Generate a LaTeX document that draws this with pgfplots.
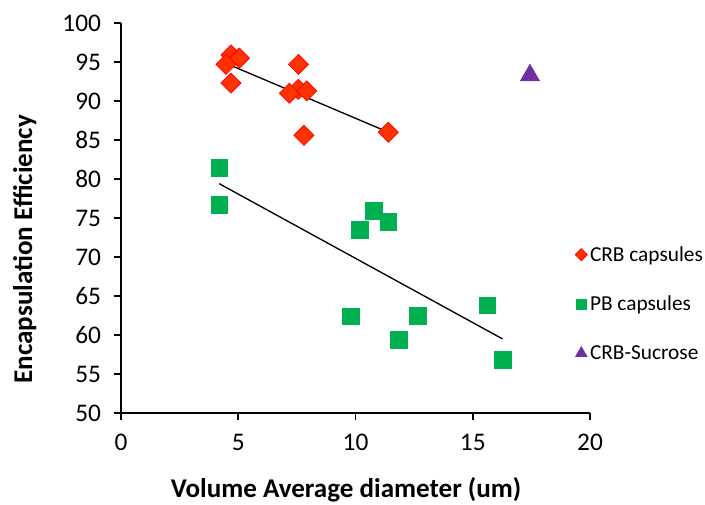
\documentclass[border=0pt]{standalone}
\usepackage{fontspec}
\setmainfont{Carlito}
\usepackage{pgfplots}
\pgfplotsset{compat=1.18}
\definecolor{crb}{HTML}{FF3300}
\definecolor{crbedge}{HTML}{FF0000}
\definecolor{pb}{HTML}{00B050}
\definecolor{suc}{HTML}{7030A0}
\begin{document}
\begin{tikzpicture}
\path[use as bounding box] (0,0) rectangle (528.75pt,378pt);
\begin{axis}[
  at={(90.75pt,68.25pt)}, anchor=south west,
  scale only axis, width=351.75pt, height=292.5pt,
  xmin=0, xmax=20, ymin=50, ymax=100,
  xtick={0,5,...,20}, ytick={50,55,...,100},
  axis lines=left,
  axis line style={-, line width=1.4pt, black},
  tick align=outside, major tick length=5.5pt,
  tick style={black, line width=1.2pt},
  /pgf/number format/assume math mode=true,
  ticklabel style={font=\fontsize{19}{22}\selectfont},
  xticklabel style={yshift=-7pt},
  yticklabel style={xshift=-6pt},
  xlabel={\bfseries Volume Average diameter (um)},
  ylabel={\bfseries Encapsulation Efficiency},
  label style={font=\fontsize{20.3}{23}\selectfont\bfseries},
  xlabel style={at={(axis description cs:0.48,-0.197)}, anchor=center},
  ylabel style={at={(axis description cs:-0.205,0.42)}, anchor=center},
  clip=false,
  legend style={draw=none, fill=none, at={(axis description cs:0.968,0.435)}, anchor=north west,
    font=\fontsize{16}{19}\selectfont, row sep=20.5pt, inner sep=0pt,
    cells={anchor=west}},
  legend cell align=left,
]
\addplot[only marks, mark=square*, mark size=5.3pt, mark options={rotate=45, fill=crb, draw=crbedge, line width=0.6pt},
  legend image post style={mark size=3.2pt}]
  coordinates {(4.69,95.9) (5.05,95.5) (4.48,94.7) (4.69,92.3) (7.57,94.7)
  (7.56,91.5) (7.18,91.0) (7.92,91.3) (7.8,85.6) (11.4,86.0)};
\addlegendentry{CRB capsules}
\addplot[only marks, mark=square*, mark size=6.3pt, mark options={fill=pb, draw=pb},
  legend image post style={mark size=3.8pt}]
  coordinates {(4.19,81.4) (4.19,76.7) (10.79,75.9) (11.4,74.5) (10.19,73.5)
  (9.79,62.4) (12.65,62.5) (11.84,59.4) (15.62,63.8) (16.27,56.8)};
\addlegendentry{PB capsules}
\addplot[only marks, mark=triangle*, mark size=8.3pt, mark options={fill=suc, draw=suc},
  legend image post style={mark size=5pt}]
  coordinates {(17.44,93.3)};
\addlegendentry{CRB-Sucrose}
\addplot[black, line width=1pt, forget plot] coordinates {(4.5,94.8) (11.4,86.0)};
\addplot[black, line width=1pt, forget plot] coordinates {(4.19,79.4) (16.27,59.5)};
\end{axis}
\end{tikzpicture}
\end{document}
